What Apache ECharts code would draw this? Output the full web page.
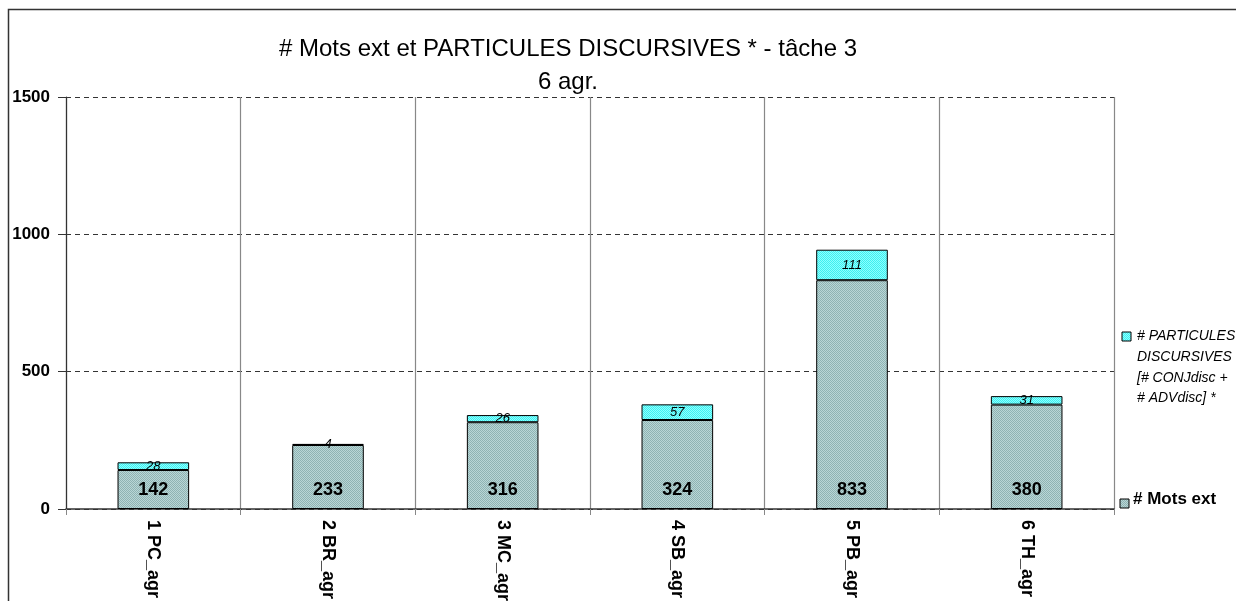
<!DOCTYPE html>
<html>
<head>
<meta charset="utf-8">
<script src="https://cdn.jsdelivr.net/npm/echarts@6/dist/echarts.min.js"></script>
<style>
html,body{margin:0;padding:0;background:#fff;}
#chart{width:1236px;height:601px;}
</style>
</head>
<body>
<div id="chart"></div>
<script>
// Speakers / groups on the x axis
var categories = ['1 PC_agr', '2 BR_agr', '3 MC_agr', '4 SB_agr', '5 PB_agr', '6 TH_agr'];
// Number of words (bottom stack)
var motsExt = [142, 233, 316, 324, 833, 380];
// Discourse particles (top stack)
var particules = [28, 4, 26, 57, 111, 31];
// Value axis ticks
var yTicks = [0, 500, 1000, 1500];

var FONT = '"Liberation Sans", Arial, sans-serif';

// Small dithered fill, like a printed halftone
function dither(c1, c2) {
  var cv = document.createElement('canvas');
  cv.width = 2; cv.height = 2;
  var ctx = cv.getContext('2d');
  ctx.fillStyle = c1; ctx.fillRect(0, 0, 2, 2);
  ctx.fillStyle = c2; ctx.fillRect(0, 0, 1, 1); ctx.fillRect(1, 1, 1, 1);
  return { image: cv, repeat: 'repeat' };
}
var fillMots = dither('#b9d6d6', '#8fb3b3');
var fillPart = dither('#8cffff', '#3fefef');

var chart = echarts.init(document.getElementById('chart'));
chart.setOption({
  animation: false,
  backgroundColor: '#ffffff',
  title: {
    text: '# Mots ext et PARTICULES DISCURSIVES * - tâche 3\n6 agr.',
    left: 563, top: 28, textAlign: 'center',
    textStyle: { fontFamily: FONT, fontSize: 24, fontWeight: 'normal', color: '#000', lineHeight: 33 }
  },
  grid: { left: 66, right: 122, top: 97, bottom: 92, outerBoundsMode: 'none', containLabel: false },
  xAxis: {
    type: 'category',
    data: categories,
    axisLine: { lineStyle: { color: '#333', width: 1.5 } },
    axisTick: { show: true, length: 6, lineStyle: { color: '#888' } },
    splitLine: { show: true, lineStyle: { color: '#888', width: 1.2 } },
    axisLabel: { rotate: -90, margin: 11, fontFamily: FONT, fontSize: 18, fontWeight: 'bold', color: '#000' }
  },
  yAxis: {
    type: 'value',
    min: yTicks[0], max: yTicks[yTicks.length - 1], interval: 500,
    axisLine: { show: true, lineStyle: { color: '#333', width: 1.2 } },
    axisTick: { show: true, length: 8, lineStyle: { color: '#333' } },
    splitLine: { show: true, lineStyle: { color: '#000', type: [5, 4], width: 0.8 } },
    axisLabel: { margin: 16, fontFamily: FONT, fontSize: 17, fontWeight: 'bold', color: '#000',
      formatter: function (v) { return String(v); } }
  },
  series: [
    {
      name: '# Mots ext',
      type: 'bar', stack: 'total', barWidth: '41%',
      data: motsExt,
      itemStyle: { color: fillMots, borderColor: '#000', borderWidth: 1 },
      label: { show: true, position: 'insideBottom', distance: 10, fontFamily: FONT, fontSize: 18, fontWeight: 'bold', color: '#000' }
    },
    {
      name: '# PARTICULES DISCURSIVES',
      type: 'bar', stack: 'total', barWidth: '41%',
      data: particules,
      itemStyle: { color: fillPart, borderColor: '#000', borderWidth: 1 },
      label: { show: true, position: 'inside', fontFamily: FONT, fontSize: 13, fontStyle: 'italic', color: '#000' }
    }
  ],
  graphic: [
    // outer frame
    { type: 'rect', shape: { x: 8.5, y: 9.5, width: 1300, height: 700 }, style: { fill: null, stroke: '#333', lineWidth: 1.5 }, silent: true },
    // legend
    { type: 'rect', shape: { x: 1122, y: 332, width: 9, height: 9 }, style: { fill: fillPart, stroke: '#000', lineWidth: 1 } },
    { type: 'text', left: 1137, top: 326, style: {
      text: '# PARTICULES\nDISCURSIVES\n[# CONJdisc +\n# ADVdisc] *',
      font: 'italic 14px ' + FONT, fill: '#000', lineHeight: 20.7 } },
    { type: 'rect', shape: { x: 1120, y: 499, width: 9, height: 9 }, style: { fill: fillMots, stroke: '#000', lineWidth: 1 } },
    { type: 'text', left: 1133, top: 491, style: {
      text: '# Mots ext', font: 'bold 17px ' + FONT, fill: '#000' } }
  ]
});
</script>
</body>
</html>
